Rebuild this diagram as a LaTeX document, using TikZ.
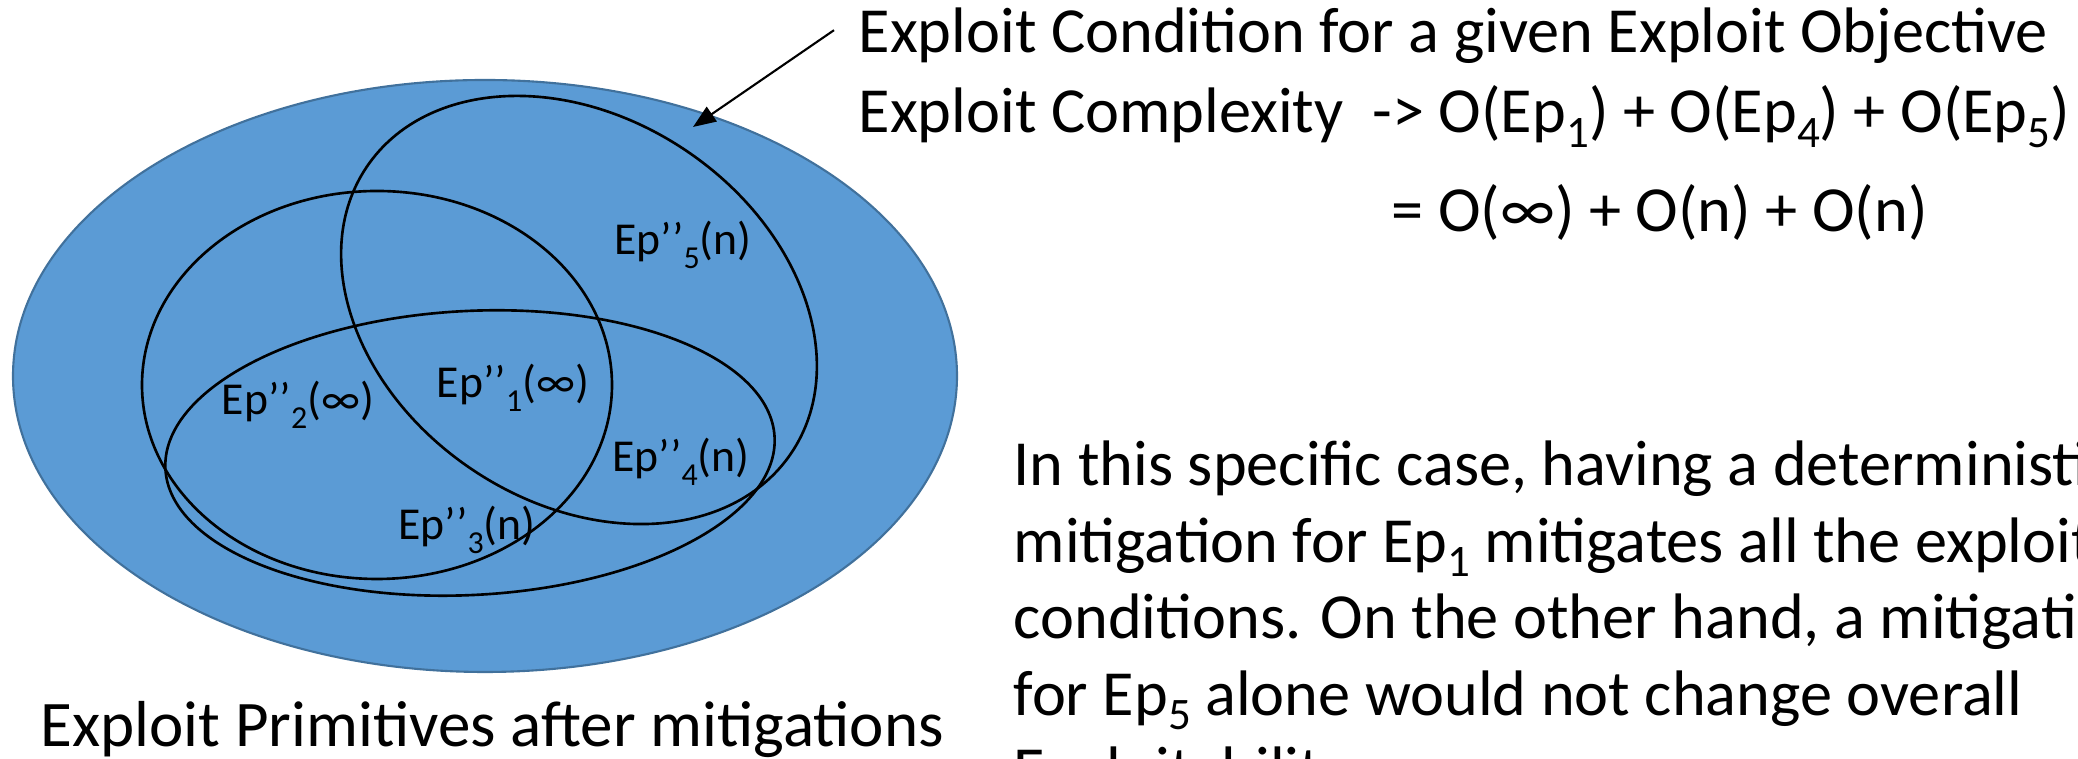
\documentclass[tikz,border=0pt]{standalone}
\usepackage{fontspec}
\usepackage{graphicx}
\setmainfont{Carlito}
\usetikzlibrary{arrows.meta,positioning}
\definecolor{SetBlue}{HTML}{5B9BD5}
\definecolor{SetEdge}{HTML}{41719C}
\newcommand{\idx}[2][0.22em]{\raisebox{-#1}{\scalebox{0.7}{#2}}}

\begin{document}
\begin{tikzpicture}[x=0.1mm, y=0.1mm,
  venn/.style={draw=black, line width=0.75pt},
  lbl/.style={anchor=base, inner sep=0pt, font=\fontsize{13}{15}\selectfont},
  txt/.style={anchor=base west, inner sep=0pt, font=\fontsize{18.3}{21.8}\selectfont},
  ptr/.style={-{Triangle[length=6.5pt, width=5pt]}, line width=0.6pt}]
  \useasboundingbox (0,0) rectangle (2078,759);
  \clip (0,0) rectangle (2078,759);
  % the sets
  \draw[fill=SetBlue, draw=SetEdge, line width=0.6pt] (485,383) ellipse [x radius=472, y radius=296];
  \draw[venn] (377,374) ellipse [x radius=235, y radius=194];
  \draw[venn, rotate around={3:(470,306)}] (470,306) ellipse [x radius=305, y radius=142];
  \draw[venn, rotate around={-34:(579,449)}] (579,449) ellipse [x radius=256, y radius=192];
  \node[lbl] (ep5) at (683,504) {Ep’{}’\idx[0.29em]{5}(n)};
  \node[lbl] (ep2) at (298,344) {Ep’{}’\idx[0.29em]{2}(∞)};
  \node[lbl] (ep1) at (513,361) {Ep’{}’\idx[0.29em]{1}(∞)};
  \node[lbl] (ep4) at (681,287) {Ep’{}’\idx[0.29em]{4}(n)};
  \node[lbl] (ep3) at (467,219) {Ep’{}’\idx[0.29em]{3}(n)};
  % texts
  \node[txt] (cond) at (858,706) {Exploit Condition for a given Exploit Objective};
  \node[txt] (cplx) at (858,626) {Exploit Complexity\ \ -> O(Ep\idx{1}) + O(Ep\idx{4}) + O(Ep\idx{5})};
  \node[txt] (cval) at (1391,527) {= O(∞) + O(n) + O(n)};
  \node[txt, align=left] (note) at (1013,-33) {In this specific case, having a deterministic\\
    mitigation for Ep\idx{1} mitigates all the exploit\\
    conditions. On the other hand, a mitigation\\
    for Ep\idx{5} alone would not change overall\\
    Exploitability.};
  \node[txt, font=\fontsize{18.5}{22}\selectfont] (prim) at (40,12) {Exploit Primitives after mitigations};
  \coordinate (tip) at (693,632);
  \draw[ptr] ([shift={(-24,6)}]cond.west) -- (tip);
\end{tikzpicture}
\end{document}
